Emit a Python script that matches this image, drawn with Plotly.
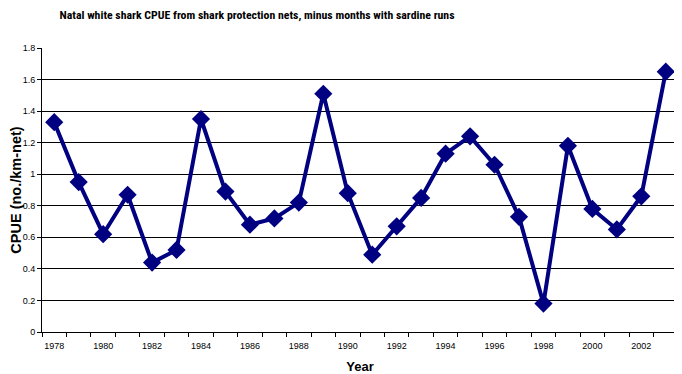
import plotly.graph_objects as go

years = list(range(1978, 2004))
cpue = [1.33, 0.95, 0.62, 0.87, 0.44, 0.52, 1.35, 0.89, 0.68, 0.72, 0.82, 1.51, 0.88,
        0.49, 0.67, 0.85, 1.13, 1.24, 1.06, 0.73, 0.18, 1.18, 0.78, 0.65, 0.86, 1.65]
x_tick_labels = [str(y) for y in range(1978, 2004, 2)]
y_ticks = [0, 0.2, 0.4, 0.6, 0.8, 1, 1.2, 1.4, 1.6, 1.8]

navy = "#000080"
W, H = 674, 366  # page body adds an 8px offset
fig = go.Figure()
fig.add_trace(go.Scatter(
    x=years, y=cpue, mode="lines+markers",
    line=dict(color=navy, width=4),
    marker=dict(symbol="diamond", size=14, color=navy),
    cliponaxis=False,
    showlegend=False,
))

fig.update_layout(
    width=W, height=H,
    margin=dict(l=34, r=4, t=40, b=42),
    paper_bgcolor="white", plot_bgcolor="white",
    title=dict(text="<b>Natal white shark CPUE from shark protection nets, minus months with sardine runs</b>",
               x=(257 - 8) / W, xref="container", xanchor="center", y=1 - 6.5 / H, yref="container", yanchor="middle",
               font=dict(family="Roboto Condensed, Liberation Sans", size=11.8, color="black")),
    font=dict(family="Liberation Sans, Arial", color="black"),
)
fig.update_xaxes(
    range=[1977.5, 2003.5], automargin=False,
    tickmode="array", tickvals=[int(v) for v in x_tick_labels], ticktext=x_tick_labels,
    ticks="", ticklabelstandoff=5, tickfont=dict(size=9, family="Liberation Sans, Arial"),
    showgrid=False, zeroline=False,
    showline=True, linecolor="black", linewidth=1,
    minor=dict(tick0=1977.5, dtick=1, ticks="outside", ticklen=4, tickcolor="black", showgrid=False),
    title=dict(text="<b>Year</b>", font=dict(size=13, family="Liberation Sans, Arial"), standoff=13),
)
fig.update_yaxes(
    range=[0, 1.8], automargin=False,
    tickmode="array", tickvals=y_ticks, ticktext=[f"{v:g}" for v in y_ticks],
    ticks="outside", ticklen=4, tickcolor="black",
    tickfont=dict(size=9, family="Liberation Sans, Arial"),
    showgrid=True, gridcolor="black", gridwidth=1, zeroline=False,
    showline=True, linecolor="black", linewidth=1,
    title=dict(text="<b>CPUE (no./km-net)</b>", font=dict(size=14.5, family="Liberation Sans, Arial"), standoff=4),
)

fig.write_html("out.html")
